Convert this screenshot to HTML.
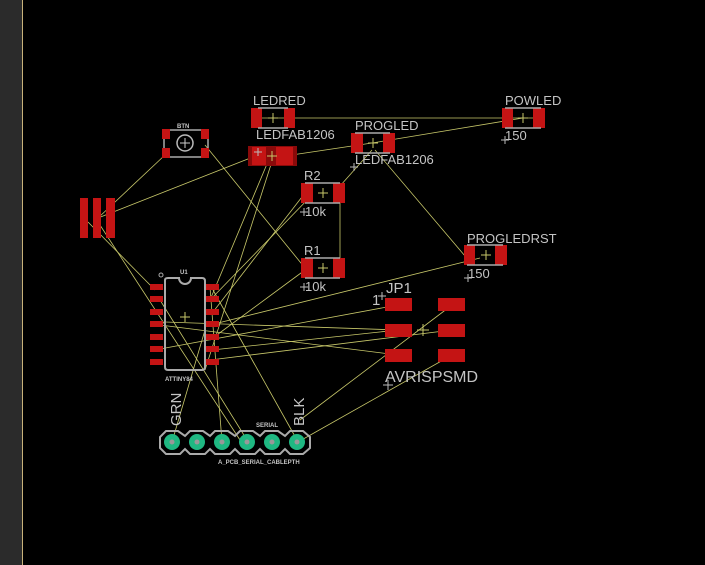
<!DOCTYPE html>
<html><head><style>
html,body{margin:0;padding:0;background:#000;width:705px;height:565px;overflow:hidden}
svg{display:block}
text{font-family:"Liberation Sans",sans-serif;fill:#c4c4c4}
</style></head><body>
<svg width="705" height="565" viewBox="0 0 705 565" xmlns="http://www.w3.org/2000/svg">
<rect x="0" y="0" width="705" height="565" fill="#000"/>
<rect x="0" y="0" width="22" height="565" fill="#2b2b2b"/>
<line x1="22.5" y1="0" x2="22.5" y2="565" stroke="#c8b27a" stroke-width="1"/>

<g stroke="#c8c86a" stroke-width="0.8" fill="none">
<line x1="262" y1="118" x2="535" y2="118"/>
<line x1="285" y1="156" x2="372" y2="143"/>
<line x1="372" y1="143" x2="523" y2="118"/>
<line x1="98" y1="218" x2="258" y2="155"/>
<line x1="98" y1="218" x2="165" y2="155"/>
<line x1="88" y1="222" x2="155" y2="290"/>
<line x1="98" y1="222" x2="240" y2="440"/>
<line x1="205" y1="145" x2="305" y2="268"/>
<line x1="272" y1="152" x2="210" y2="300"/>
<line x1="275" y1="152" x2="205" y2="370"/>
<line x1="340" y1="186" x2="372" y2="150"/>
<line x1="340" y1="195" x2="340" y2="268"/>
<line x1="312" y1="195" x2="210" y2="300"/>
<line x1="305" y1="193" x2="213" y2="312"/>
<line x1="305" y1="270" x2="210" y2="340"/>
<line x1="375" y1="150" x2="465" y2="256"/>
<line x1="480" y1="258" x2="210" y2="325"/>
<line x1="398" y1="305" x2="160" y2="349"/>
<line x1="398" y1="330" x2="212" y2="350"/>
<line x1="398" y1="330" x2="165" y2="322"/>
<line x1="452" y1="330" x2="210" y2="360"/>
<line x1="398" y1="355" x2="160" y2="325"/>
<line x1="452" y1="305" x2="300" y2="420"/>
<line x1="452" y1="355" x2="298" y2="442"/>
<line x1="213" y1="290" x2="297" y2="440"/>
<line x1="160" y1="300" x2="247" y2="440"/>
<line x1="205" y1="330" x2="172" y2="442"/>
<line x1="210" y1="287" x2="222" y2="442"/>
</g>

<g>
<rect x="251" y="108" width="11" height="20" fill="#c41414"/>
<rect x="284" y="108" width="11" height="20" fill="#c41414"/>
<line x1="258" y1="108" x2="288" y2="108" stroke="#aaa" stroke-width="1.5"/>
<line x1="258" y1="128" x2="288" y2="128" stroke="#aaa" stroke-width="1.5"/>
<path d="M268 118h10M273 113v10" stroke="#c8c86a"/>
<text x="253" y="105" font-size="13">LEDRED</text>
</g>
<g>
<rect x="248" y="146" width="49" height="20" fill="#8a0a0a"/>
<rect x="252" y="147" width="14" height="18" fill="#c41414"/>
<rect x="276" y="147" width="17" height="18" fill="#c41414"/>
<path d="M267 156h10M272 151v10" stroke="#c8c86a"/>
<text x="256" y="139" font-size="13">LEDFAB1206</text>
<path d="M254 152h8M258 148v8" stroke="#bbb"/>
</g>
<g>
<rect x="164" y="130" width="44" height="27" fill="none" stroke="#aaa" stroke-width="1.5"/>
<rect x="162" y="129" width="8" height="10" fill="#c41414"/>
<rect x="162" y="148" width="8" height="10" fill="#c41414"/>
<rect x="201" y="129" width="8" height="10" fill="#c41414"/>
<rect x="201" y="148" width="8" height="10" fill="#c41414"/>
<circle cx="185" cy="143" r="8" fill="none" stroke="#bbb" stroke-width="1.5"/>
<path d="M180 143h10M185 138v10" stroke="#ccc"/>
<text x="177" y="128" font-size="6" font-weight="bold">BTN</text>
</g>
<rect x="80" y="198" width="8" height="40" fill="#c41414"/>
<rect x="93" y="198" width="8" height="40" fill="#c41414"/>
<rect x="106" y="198" width="9" height="40" fill="#c41414"/>
<g>
<rect x="301" y="183" width="12" height="20" fill="#c41414"/>
<rect x="333" y="183" width="12" height="20" fill="#c41414"/>
<line x1="305" y1="183" x2="340" y2="183" stroke="#aaa" stroke-width="1.5"/>
<line x1="305" y1="203" x2="340" y2="203" stroke="#aaa" stroke-width="1.5"/>
<path d="M318 193h10M323 188v10" stroke="#c8c86a"/>
<text x="304" y="180" font-size="13">R2</text>
<text x="305" y="216" font-size="13">10k</text>
<path d="M300 212h8M304 208v8" stroke="#bbb"/>
</g>
<g>
<rect x="301" y="258" width="12" height="20" fill="#c41414"/>
<rect x="333" y="258" width="12" height="20" fill="#c41414"/>
<line x1="305" y1="258" x2="340" y2="258" stroke="#aaa" stroke-width="1.5"/>
<line x1="305" y1="278" x2="340" y2="278" stroke="#aaa" stroke-width="1.5"/>
<path d="M318 268h10M323 263v10" stroke="#c8c86a"/>
<text x="304" y="255" font-size="13">R1</text>
<text x="305" y="291" font-size="13">10k</text>
<path d="M300 287h8M304 283v8" stroke="#bbb"/>
</g>
<g>
<rect x="351" y="133" width="12" height="20" fill="#c41414"/>
<rect x="383" y="133" width="12" height="20" fill="#c41414"/>
<line x1="355" y1="133" x2="390" y2="133" stroke="#aaa" stroke-width="1.5"/>
<line x1="355" y1="153" x2="390" y2="153" stroke="#aaa" stroke-width="1.5"/>
<path d="M368 143h10M373 138v10" stroke="#c8c86a"/>
<text x="355" y="130" font-size="13">PROGLED</text>
<text x="355" y="164" font-size="13">LEDFAB1206</text>
<path d="M350 167h8M354 163v8" stroke="#bbb"/>
</g>
<g>
<rect x="502" y="108" width="11" height="20" fill="#c41414"/>
<rect x="533" y="108" width="12" height="20" fill="#c41414"/>
<line x1="505" y1="108" x2="541" y2="108" stroke="#aaa" stroke-width="1.5"/>
<line x1="505" y1="128" x2="541" y2="128" stroke="#aaa" stroke-width="1.5"/>
<path d="M518 118h10M523 113v10" stroke="#c8c86a"/>
<text x="505" y="105" font-size="13">POWLED</text>
<text x="505" y="140" font-size="13">150</text>
<path d="M501 140h8M505 136v8" stroke="#bbb"/>
</g>
<g>
<rect x="464" y="245" width="11" height="20" fill="#c41414"/>
<rect x="495" y="245" width="12" height="20" fill="#c41414"/>
<line x1="467" y1="245" x2="503" y2="245" stroke="#aaa" stroke-width="1.5"/>
<line x1="467" y1="265" x2="503" y2="265" stroke="#aaa" stroke-width="1.5"/>
<path d="M481 255h10M486 250v10" stroke="#c8c86a"/>
<text x="467" y="243" font-size="13">PROGLEDRST</text>
<text x="468" y="278" font-size="13">150</text>
<path d="M464 278h8M468 274v8" stroke="#bbb"/>
</g>
<g>
<path d="M165 280 Q165 278 168 278 H179 A6 6 0 0 0 191 278 H202 Q205 278 205 281 V367 Q205 370 202 370 H168 Q165 370 165 367 Z" fill="none" stroke="#aaa" stroke-width="2"/>
<g fill="#c41414">
<rect x="150" y="284" width="13" height="6"/><rect x="150" y="296" width="13" height="6"/><rect x="150" y="309" width="13" height="6"/><rect x="150" y="321" width="13" height="6"/><rect x="150" y="334" width="13" height="6"/><rect x="150" y="346" width="13" height="6"/><rect x="150" y="359" width="13" height="6"/>
<rect x="206" y="284" width="13" height="6"/><rect x="206" y="296" width="13" height="6"/><rect x="206" y="309" width="13" height="6"/><rect x="206" y="321" width="13" height="6"/><rect x="206" y="334" width="13" height="6"/><rect x="206" y="346" width="13" height="6"/><rect x="206" y="359" width="13" height="6"/>
</g>
<circle cx="161" cy="275" r="2" fill="none" stroke="#aaa"/>
<path d="M180 317h10M185 312v10" stroke="#c8c86a"/>
<text x="180" y="274" font-size="6" font-weight="bold">U1</text>
<text x="165" y="381" font-size="6" font-weight="bold">ATTINY84</text>
</g>
<g fill="#c41414">
<rect x="385" y="298" width="27" height="13"/><rect x="385" y="324" width="27" height="13"/><rect x="385" y="349" width="27" height="13"/>
<rect x="438" y="298" width="27" height="13"/><rect x="438" y="324" width="27" height="13"/><rect x="438" y="349" width="27" height="13"/>
</g>
<path d="M417 330h12M423 324v12" stroke="#c8c86a"/>
<text x="386" y="293" font-size="15">JP1</text>
<text x="372" y="305" font-size="15">1</text>
<path d="M378 296h8M382 292v8" stroke="#bbb"/>
<text x="385" y="382" font-size="16">AVRISPSMD</text>
<path d="M383 385h10M388 380v10" stroke="#bbb"/>
<g>
<path d="M166 431 H178 L185 436 L190 431 H203 L210 436 L215 431 H228 L235 436 L240 431 H253 L260 436 L265 431 H278 L285 436 L290 431 H303 L310 437 V448 L303 454 H290 L285 449 L280 454 H265 L260 449 L255 454 H240 L235 449 L230 454 H215 L210 449 L205 454 H190 L185 449 L180 454 H166 L160 448 V437 Z" fill="none" stroke="#aaa" stroke-width="2"/>
<g fill="#1fb882">
<circle cx="172" cy="442" r="8"/><circle cx="197" cy="442" r="8"/><circle cx="222" cy="442" r="8"/><circle cx="247" cy="442" r="8"/><circle cx="272" cy="442" r="8"/><circle cx="297" cy="442" r="8"/>
</g>
<g fill="#999">
<circle cx="172" cy="442" r="2.5"/><circle cx="197" cy="442" r="2.5"/><circle cx="222" cy="442" r="2.5"/><circle cx="247" cy="442" r="2.5"/><circle cx="272" cy="442" r="2.5"/><circle cx="297" cy="442" r="2.5"/>
</g>
<text transform="translate(181,426) rotate(-90)" font-size="15">GRN</text>
<text transform="translate(304,426) rotate(-90)" font-size="15">BLK</text>
<text x="256" y="427" font-size="6" font-weight="bold">SERIAL</text>
<text x="218" y="464" font-size="6" font-weight="bold">A_PCB_SERIAL_CABLEPTH</text>
</g>
</svg>
</body></html>
